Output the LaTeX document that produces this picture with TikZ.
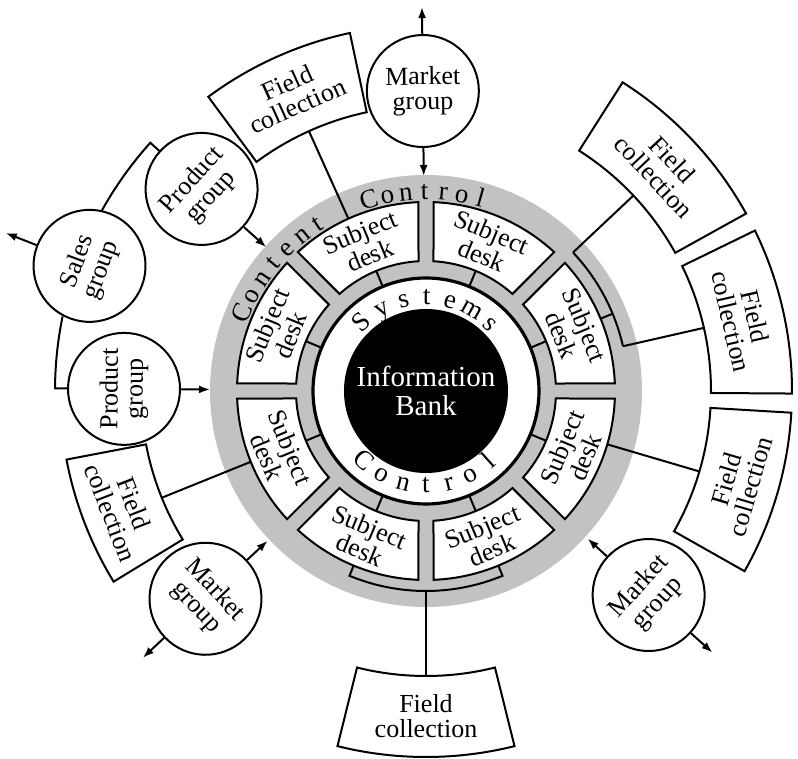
\documentclass[tikz,border=0pt]{standalone}
\usepackage{fontspec}
\setmainfont{Liberation Serif}
\usetikzlibrary{arrows.meta}

\colorlet{band}{black!24}
\tikzset{
  box/.style={draw, line width=1pt, fill=white},
  link/.style={line width=1pt},
  arr/.style={line width=1pt, -{Latex[length=5.5pt,width=4pt]}},
  lbl/.style={align=center, inner sep=0pt, font=\fontsize{13}{12.5}\selectfont},
  grp/.style={lbl, draw, circle, fill=white, line width=1pt, minimum size=56pt},
  ltr/.style={anchor=base, inner sep=0pt, font=\fontsize{13.5}{13.5}\selectfont},
}
% desk between two spokes, gaps of constant width
\def\desk(#1)#2#3{%
  \draw[box] ({#1+3.3}:130) -- ({#1+2.3}:189)
    arc[start angle={#1+2.3}, end angle={#1+42.7}, radius=189]
    -- ({#1+41.7}:130)
    arc[start angle={#1+41.7}, end angle={#1+3.3}, radius=130] -- cycle;
  \node[lbl, rotate=#2] (#3) at ({#1+22.5}:159.5) {Subject\\desk};}
% outer ring sector
\def\fieldbox(#1:#2)#3#4{%
  \draw[box] (#1:285) -- (#1:366) arc[start angle=#1, end angle=#2, radius=366]
    -- (#2:285) arc[start angle=#2, end angle=#1, radius=285] -- cycle;
  \node[lbl, rotate=#3] (#4) at ({(#1+#2)/2}:325.5) {Field\\collection};}

\begin{document}
\begin{tikzpicture}[x=0.5pt,y=0.5pt]
  \useasboundingbox (-426,-368) rectangle (372,391);

  %%%%% content control band %%%%%
  \fill[band] (0,0) circle (216);

  \draw[link] (22.5:189) -- (22.5:202);
  \draw[link] (12.8:202) arc[start angle=12.8, end angle=43.3, radius=202];
  \draw[link] (247.5:189) -- (247.5:200)
    arc[start angle=247.5, end angle=292.5, radius=200] -- (292.5:189);

  \desk(0){-67.5}{d1}   \desk(45){-22.5}{d2}
  \desk(90){22.5}{d3}   \desk(135){67.5}{d4}
  \desk(180){-67.5}{d5} \desk(225){-22.5}{d6}
  \desk(270){22.5}{d7}  \desk(315){67.5}{d8}

  \foreach \ch [count=\i] in {C,o,n,t,e,n,t}
    \node[ltr, rotate={67-5.67*(\i-1)}] at ({157-5.67*(\i-1)}:191.5) {\ch};
  \foreach \ch [count=\i] in {C,o,n,t,r,o,l}
    \node[ltr, rotate={16.6-5.4*(\i-1)}] at ({106.6-5.4*(\i-1)}:191.5) {\ch};

  %%%%% systems control ring %%%%%
  \draw[line width=1.6pt, fill=white] (0,0) circle (113);
  \foreach \a in {22.5,67.5,...,337.5}
    \draw[link] (\a:113) -- (\a:130);

  \foreach \ch [count=\i] in {S,y,s,t,e,m,s}
    \node[ltr, rotate={43-14.5*(\i-1)}] at ({133-14.5*(\i-1)}:86) {\ch};
  \foreach \ch [count=\i] in {C,o,n,t,r,o,l}
    \node[ltr, rotate={318+14*(\i-1)}] at ({228+14*(\i-1)}:102) {\ch};

  \node[circle, fill=black, minimum size=75pt, text=white, align=center,
    font=\fontsize{14.5}{14.5}\selectfont] (bank) at (0,0) {Information\\Bank};

  %%%%% field collection %%%%%
  \fieldbox(102:126.5){24.25}{fcNW}
  \fieldbox(29:57.5){-46.75}{fcNE}
  \fieldbox(-0.4:26){-77.2}{fcE}
  \fieldbox(-29.5:-3.4){73.55}{fcSE}
  \fieldbox(-104:-76){0}{fcS}
  \fieldbox(190.8:211.4){-68.9}{fcW}

  \coordinate (fNW) at (114.25:189);   \coordinate (fNW') at (114.25:285);
  \coordinate (fNE) at (43.3:202);     \coordinate (fNE') at (43.3:285);
  \coordinate (fE) at (12.8:202);      \coordinate (fE') at (12.8:285);
  \coordinate (fSE) at (-16.4:189);    \coordinate (fSE') at (-16.4:285);
  \coordinate (fS) at (270:200);       \coordinate (fS') at (270:285);
  \coordinate (fW) at (202:189);       \coordinate (fW') at (202:285);
  \draw[link] (fNW) -- (fNW');
  \draw[link] (fNE) -- (fNE');
  \draw[link] (fE) -- (fE');
  \draw[link] (fSE) -- (fSE');
  \draw[link] (fS) -- (fS');
  \draw[link] (fW) -- (fW');

  %%%%% groups %%%%%
  \node[grp, rotate=0.6] (mktN) at (90.6:300) {Market\\group};
  \node[grp, rotate=48] (prodNW) at (138:302) {Product\\group};
  \node[grp, rotate=69.6] (sales) at (159.6:359) {Sales\\group};
  \node[grp, rotate=89.6] (prodW) at (179.6:302) {Product\\group};
  \node[grp, rotate=-46.7] (mktSW) at (223.3:303) {Market\\group};
  \node[grp, rotate=47.5] (mktSE) at (317.5:302) {Market\\group};

  \coordinate (sNW) at (150.9:371);
  \coordinate (sW) at (168.4:371);
  \draw[link] (prodNW) -- (138:371) arc[start angle=138, end angle=150.9, radius=371] -- (sNW);
  \draw[link] (sW) arc[start angle=168.4, end angle=179.6, radius=371] -- (prodW);

  \coordinate (inN) at (90.6:215);    \coordinate (outN) at (90.6:384);
  \coordinate (inNW) at (138:215);
  \coordinate (inW) at (179.6:216);
  \coordinate (inSW) at (223.4:218);  \coordinate (outSW) at (223.3:389);
  \coordinate (inSE) at (317.6:219);  \coordinate (outSE) at (317.6:388);
  \coordinate (outS) at (159.4:449);
  \draw[arr] (mktN) -- (inN);
  \draw[arr] (mktN) -- (outN);
  \draw[arr] (prodNW) -- (inNW);
  \draw[arr] (prodW) -- (inW);
  \draw[arr] (sales) -- (outS);
  \draw[arr] (mktSW) -- (inSW);
  \draw[arr] (mktSW) -- (outSW);
  \draw[arr] (mktSE) -- (inSE);
  \draw[arr] (mktSE) -- (outSE);
\end{tikzpicture}
\end{document}
